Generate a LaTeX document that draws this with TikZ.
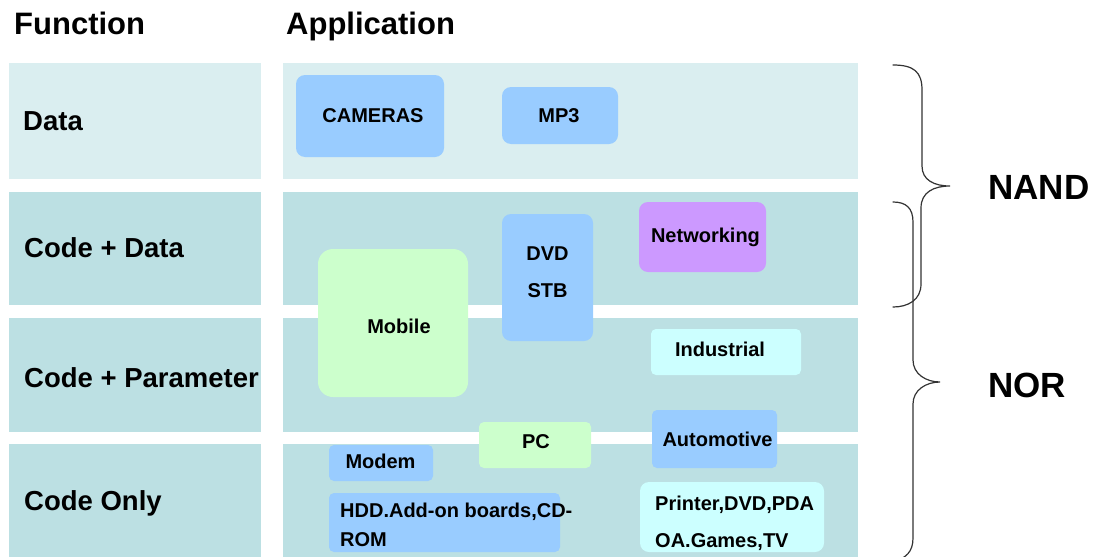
\documentclass[tikz,border=0pt]{standalone}
\usepackage{fontspec}
\setmainfont{Liberation Sans}

\definecolor{bandcol}{HTML}{BCE0E3}
\definecolor{databand}{HTML}{DAEEF0}
\definecolor{boxblue}{HTML}{99CCFF}
\definecolor{boxgreen}{HTML}{CCFFCC}
\definecolor{boxpurple}{HTML}{CC99FF}
\definecolor{boxcyan}{HTML}{CCFFFF}
\definecolor{bracecol}{HTML}{333333}

\tikzset{
  band/.style={fill=bandcol, draw=none},
  appbox/.style={rounded corners=9pt, draw=none},
  smallbox/.style={rounded corners=5pt, draw=none},
  headtxt/.style={font=\fontsize{31}{34}\selectfont\bfseries, anchor=base west, inner sep=0pt},
  rowtxt/.style={font=\fontsize{27.5}{30}\selectfont\bfseries, anchor=base west, inner sep=0pt},
  boxtxt/.style={font=\fontsize{20}{22}\selectfont\bfseries, anchor=base, inner sep=0pt},
  boxtxtl/.style={font=\fontsize{20}{22}\selectfont\bfseries, anchor=base west, inner sep=0pt},
  flashtxt/.style={font=\fontsize{35}{38}\selectfont\bfseries, anchor=base west, inner sep=0pt},
  brace/.style={draw=bracecol, line width=1.2pt, line cap=round}
}

\begin{document}
\begin{tikzpicture}[x=1pt, y=-1pt]
\useasboundingbox (0,0) rectangle (1098,557);
\clip (0,0) rectangle (1098,557);

% column headings
\node[headtxt] (hfunc) at (14,34) {Function};
\node[headtxt] (happ) at (286,34) {Application};

% function rows: left label column and right application area
\fill[databand] (9,63) rectangle (261,179);
\fill[databand] (283,63) rectangle (858,179);
\fill[band] (9,192) rectangle (261,305);
\fill[band] (283,192) rectangle (858,305);
\fill[band] (9,318) rectangle (261,432);
\fill[band] (283,318) rectangle (858,432);
\fill[band] (9,444) rectangle (261,557);
\fill[band] (283,444) rectangle (858,557);

\node[rowtxt] (rdata) at (23,130) {Data};
\node[rowtxt] (rcodedata) at (24,257) {Code + Data};
\begin{scope}
  \clip (9,318) rectangle (261,432);
  \node[rowtxt] (rcodepar) at (24,387) {Code + Parameter};
\end{scope}
\node[rowtxt] (rcodeonly) at (24,510) {Code Only};

% application boxes
\fill[appbox, boxblue] (296,75) rectangle (444,157);
\node[boxtxt] (tcam) at (373,122) {CAMERAS};

\fill[appbox, boxblue] (502,87) rectangle (618,144);
\node[boxtxt] (tmp3) at (559,122) {MP3};

\fill[appbox, boxblue] (502,214) rectangle (593,341);
\node[boxtxt] (tdvd) at (547.5,260) {DVD};
\node[boxtxt] (tstb) at (547.5,297) {STB};

\fill[appbox, boxpurple] (639,202) rectangle (766,272);
\node[boxtxt] (tnet) at (705.5,242) {Networking};

\fill[appbox, rounded corners=15pt, boxgreen] (318,249) rectangle (468,397);
\node[boxtxt] (tmob) at (399,333) {Mobile};

\fill[smallbox, boxcyan] (651,329) rectangle (801,375);
\node[boxtxt] (tind) at (720,356) {Industrial};

\fill[smallbox, boxgreen] (479,422) rectangle (591,468);
\node[boxtxt] (tpc) at (536,448) {PC};

\fill[smallbox, boxblue] (652,410) rectangle (777,468);
\node[boxtxt] (tauto) at (717.5,446) {Automotive};

\fill[smallbox, boxblue] (329,445) rectangle (433,481);
\node[boxtxt] (tmodem) at (380.5,468) {Modem};

\fill[smallbox, boxblue] (329,493) rectangle (560,552);
\node[boxtxtl] (thdda) at (340,517) {HDD.Add-on boards,CD-};
\node[boxtxtl] (thddb) at (340,546) {ROM};

\fill[appbox, boxcyan] (640,482) rectangle (824,552);
\node[boxtxtl] (tprna) at (655,510) {Printer,DVD,PDA};
\node[boxtxtl] (tprnb) at (655,547) {OA.Games,TV};

% braces grouping the rows by flash type
\draw[brace] (893,65) .. controls (914,65) and (922,72) .. (922,90)
  -- (922,166) .. controls (922,180) and (934,186) .. (950,186)
  .. controls (934,186) and (921,192) .. (921,208)
  -- (921,284) .. controls (921,300) and (908,307) .. (893,307);
\draw[brace] (893,202) .. controls (906,202) and (913,208) .. (913,222)
  -- (913,360) .. controls (913,374) and (926,382) .. (940,382)
  .. controls (926,382) and (913,390) .. (913,404)
  -- (913,538) .. controls (913,552) and (906,558) .. (893,562);

\node[flashtxt] (tnand) at (988,199) {NAND};
\node[flashtxt] (tnor) at (988,397) {NOR};
\end{tikzpicture}
\end{document}
